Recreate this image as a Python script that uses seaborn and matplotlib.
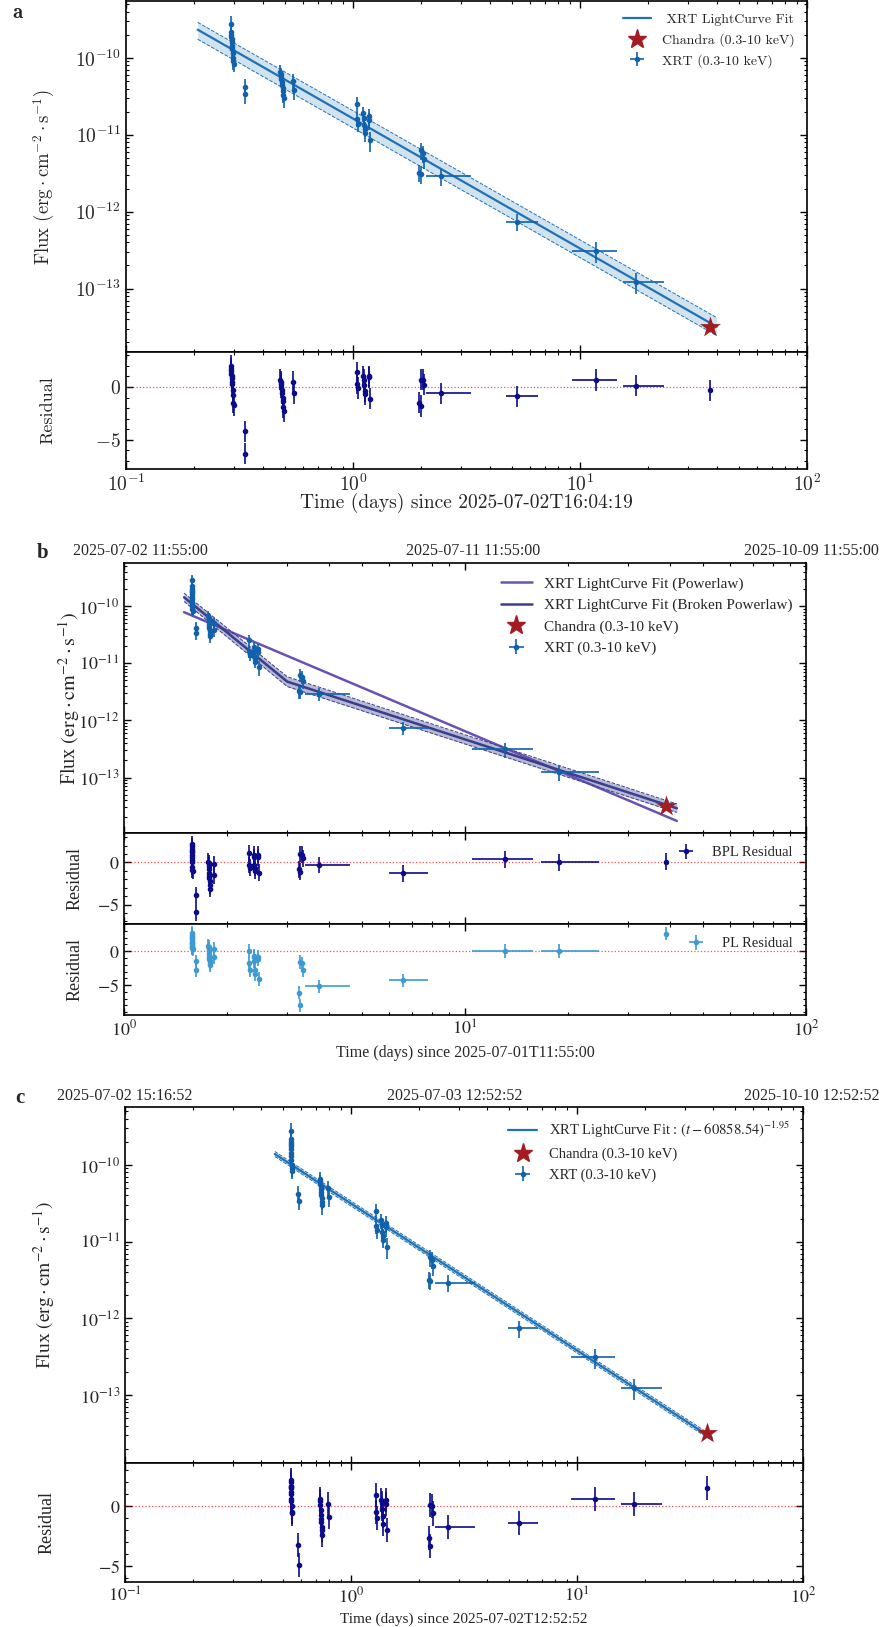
import numpy as np
import pandas as pd
import matplotlib
matplotlib.use('Agg')
import matplotlib.pyplot as plt
import seaborn as sns
from matplotlib.font_manager import FontProperties
from matplotlib.lines import Line2D
from matplotlib.ticker import LogLocator, NullFormatter, MultipleLocator

# ---- data (times in days since 2025-07-02T16:04:19) ----
xrt_t = [0.290, 0.290, 0.291, 0.291, 0.292, 0.292, 0.293, 0.294, 0.295, 0.296, 0.297, 0.299,
         0.334, 0.336,
         0.478, 0.480, 0.482, 0.484, 0.486, 0.488, 0.490, 0.492, 0.494, 0.496,
         0.545, 0.547,
         1.04, 1.04, 1.05, 1.11, 1.12, 1.12, 1.13, 1.13, 1.18, 1.18, 1.19,
         1.99, 2.04, 2.05, 1.96, 1.99,
         2.45, 5.3, 11.8, 17.6]
xrt_f = [2.8e-10, 2.2e-10, 2.0e-10, 1.85e-10, 1.75e-10, 1.6e-10, 1.45e-10, 1.3e-10, 1.15e-10, 1.0e-10, 9.0e-11, 8.3e-11,
         4.2e-11, 3.4e-11,
         6.6e-11, 6.2e-11, 5.7e-11, 5.3e-11, 4.9e-11, 4.5e-11, 4.1e-11, 3.7e-11, 3.3e-11, 3.0e-11,
         5.0e-11, 3.8e-11,
         2.5e-11, 1.6e-11, 1.4e-11, 1.9e-11, 1.65e-11, 1.35e-11, 1.2e-11, 1.05e-11, 1.75e-11, 1.55e-11, 8.5e-12,
         6.3e-12, 5.8e-12, 4.8e-12, 3.2e-12, 3.1e-12,
         2.9e-12, 7.4e-13, 3.1e-13, 1.23e-13]
xrt_ferr = [0.25, 0.22, 0.2, 0.2, 0.2, 0.2, 0.2, 0.2, 0.2, 0.2, 0.22, 0.22,
            0.25, 0.25,
            0.22, 0.2, 0.2, 0.2, 0.2, 0.2, 0.2, 0.22, 0.22, 0.25,
            0.25, 0.25,
            0.25, 0.22, 0.22, 0.22, 0.2, 0.2, 0.22, 0.22, 0.25, 0.25, 0.3,
            0.25, 0.25, 0.25, 0.25, 0.25,
            0.25, 0.25, 0.3, 0.3]
xrt_tm = [0] * 42 + [0.35, 0.6, 2.6, 2.2]
xrt_tp = [0] * 42 + [0.85, 1.2, 2.7, 5.9]

chandra_t = 37.5
chandra_f = 3.2e-14

res_a = [2.0, 1.7, 1.5, 1.2, 1.0, 0.8, 0.5, 0.3, -0.3, -0.8, -1.5, -1.7,
         -4.2, -6.3,
         0.7, 0.5, 0.3, 0.0, -0.3, -0.6, -1.0, -1.3, -1.9, -2.3,
         0.5, -0.6,
         1.4, 0.3, -0.1, 1.0, 0.7, 0.2, -0.4, -0.7, 1.0, 0.9, -1.1,
         0.7, 0.7, 0.2, -1.5, -1.8,
         -0.6, -0.9, 0.65, 0.1,
         -0.3]
res_bpl = [2.2, 1.9, 1.6, 1.4, 1.2, 0.9, 0.6, 0.3, 0.0, -0.5, -0.9, -1.0,
           -3.9, -5.9,
           0.1, -0.1, -0.4, -0.8, -1.2, -1.6, -1.9, -2.2, -2.7, -3.1,
           -0.2, -1.5,
           1.1, -0.3, -0.6, 0.9, 0.6, -0.3, -0.6, -1.0, 0.9, 0.6, -1.2,
           1.0, 0.9, 0.5, -0.8, -1.1,
           -0.3, -1.3, 0.4, 0.0,
           0.1]
res_pl = [2.7, 2.4, 2.1, 1.9, 1.7, 1.4, 1.2, 1.0, 0.8, 0.6, 0.4, 0.3,
          -1.5, -2.8,
          0.8, 0.6, 0.3, 0.0, -0.4, -0.8, -1.1, -1.4, -1.8, -2.0,
          0.3, -0.9,
          0.0, -1.8, -2.8, -0.7, -0.9, -1.5, -2.8, -3.4, -0.8, -1.2, -4.1,
          -1.6, -1.8, -2.8, -6.1, -8.0,
          -5.2, -4.3, 0.0, 0.0,
          2.6]
res_c = [2.2, 2.0, 1.7, 1.6, 1.5, 1.2, 1.0, 0.6, 0.4, 0.0, -0.5, -0.6,
         -3.2, -4.9,
         0.6, 0.4, 0.1, -0.3, -0.7, -1.1, -1.3, -1.7, -2.0, -2.4,
         0.2, -0.9,
         0.9, -0.5, -1.0, 0.5, 0.3, -0.2, -0.8, -1.5, 0.5, 0.2, -2.0,
         0.1, 0.0, -0.6, -2.6, -3.3,
         -1.7, -1.4, 0.6, 0.2,
         1.5]

# epoch shifts (days) for panels b and c
shift_b = 1.29
shift_c = 0.25

# fit curves (log-log straight segments)
fit_a_t = [0.207, 40.0]
fit_a_f = [2.33e-10, 3.2e-14]
fit_a_hi = [2.9e-10, 4.2e-14]
fit_a_lo = [1.75e-10, 2.45e-14]

pl_b_t = [1.50, 41.8]
pl_b_f = [7.8e-11, 1.74e-14]
bpl_b_t = [1.50, 3.01, 41.8]
bpl_b_f = [1.42e-10, 4.76e-12, 2.9e-14]
bpl_b_hi = [1.68e-10, 5.8e-12, 3.45e-14]
bpl_b_lo = [1.2e-10, 3.9e-12, 2.45e-14]

fit_c_t = [0.46, 39.5]
fit_c_f = [1.39e-10, 2.75e-14]
fit_c_hi = [1.50e-10, 2.97e-14]
fit_c_lo = [1.29e-10, 2.55e-14]

top_b = ['2025-07-02 11:55:00', '2025-07-11 11:55:00', '2025-10-09 11:55:00']
top_c = ['2025-07-02 15:16:52', '2025-07-03 12:52:52', '2025-10-10 12:52:52']

XRT_C = '#1161ad'
FIT_C = '#1f72b6'
STAR_C = '#a11d22'
RES_C = '#0b0b8c'
PLRES_C = '#3e9ad3'
PL_C = '#6a52b3'
BPL_C = '#3a3e8c'

sns.set_theme(style='ticks')

W, H = 880, 1627
fig = plt.figure(figsize=(W / 100, H / 100), dpi=100)
fig.patch.set_facecolor('white')


def rect(l, t, r, b):
    return [l / W, 1 - b / H, (r - l) / W, (b - t) / H]


def fp(panel, size, weight='normal'):
    if panel == 'a':
        return FontProperties(family='cmr10', size=size, weight=weight, math_fontfamily='cm')
    return FontProperties(family='Liberation Serif', size=size, weight=weight, math_fontfamily='stix')


def setup(ax):
    ax.set_facecolor('white')
    ax.tick_params(which='both', direction='in', top=True, right=True, color='black')
    ax.tick_params(which='major', length=5, width=1.0)
    ax.tick_params(which='minor', length=2.5, width=0.8)
    for s in ax.spines.values():
        s.set_color('black')
        s.set_linewidth(1.2)


def log_y(ax, exps, panel, size):
    ax.set_yscale('log')
    ax.set_yticks([10.0 ** e for e in exps])
    ax.set_yticklabels([r'$10^{%d}$' % e for e in exps], fontproperties=fp(panel, size))
    ax.yaxis.set_minor_locator(LogLocator(base=10, subs=np.arange(2, 10), numticks=100))
    ax.yaxis.set_minor_formatter(NullFormatter())


def log_x(ax, exps, panel, size):
    ax.set_xscale('log')
    ax.set_xticks([10.0 ** e for e in exps])
    ax.set_xticklabels([r'$10^{%d}$' % e for e in exps], fontproperties=fp(panel, size))
    ax.xaxis.set_minor_locator(LogLocator(base=10, subs=np.arange(2, 10), numticks=100))
    ax.xaxis.set_minor_formatter(NullFormatter())


def res_y(ax, panel, size, lim):
    ax.set_ylim(*lim)
    ax.set_yticks([-5, 0])
    ax.set_yticklabels([r'$-5$', r'$0$'], fontproperties=fp(panel, size))
    ax.yaxis.set_minor_locator(MultipleLocator(1))
    ax.axhline(0, color='red', ls=':', lw=0.9, alpha=0.7, zorder=1)


t_a = np.array(xrt_t)
f = np.array(xrt_f)
ferr = f * np.array(xrt_ferr)
terr = [xrt_tm, xrt_tp]
rt_terr = [xrt_tm + [0], xrt_tp + [0]]
flux_lbl = r'Flux $(\mathrm{erg}\cdot\mathrm{cm}^{-2}\cdot\mathrm{s}^{-1})$'


def draw_xrt(ax, t):
    eb = ax.errorbar(t, f, yerr=ferr, xerr=terr, fmt='o', ms=3, color=XRT_C,
                     ecolor=XRT_C, elinewidth=1.2, capsize=0, zorder=3)
    return eb


def draw_star(ax, t):
    sns.scatterplot(x=[t], y=[chandra_f], marker='*', s=250, color=STAR_C,
                    linewidth=0, ax=ax, zorder=6, legend=False)


STAR_H = Line2D([], [], marker='*', ls='', ms=14, color=STAR_C, mec=STAR_C)


def top_labels(labels, xs, y, size):
    # left and middle centred, last one flush with the figure edge
    for i, (x_, s) in enumerate(zip(xs, labels)):
        ha = 'right' if i == len(labels) - 1 else 'center'
        fig.text(x_ / W, 1 - y / H, s, ha=ha, va='center', fontproperties=fp('b', size))


# ================= panel a =================
ax = fig.add_axes(rect(126, 1, 807, 352))
axr = fig.add_axes(rect(126, 352, 807, 469), sharex=ax)
for a_ in (ax, axr):
    setup(a_)
log_x(axr, [-1, 0, 1, 2], 'a', 14)
axr.set_xlim(0.1, 100)
log_y(ax, [-13, -12, -11, -10], 'a', 14)
ax.set_ylim(1.5e-14, 5.5e-10)
ax.tick_params(labelbottom=False)

ax.fill_between(fit_a_t, fit_a_lo, fit_a_hi, color='#1f77b4', alpha=0.2, lw=0, zorder=1)
ax.plot(fit_a_t, fit_a_hi, ls='--', lw=0.7, color=FIT_C, zorder=2)
ax.plot(fit_a_t, fit_a_lo, ls='--', lw=0.7, color=FIT_C, zorder=2)
sns.lineplot(x=fit_a_t, y=fit_a_f, ax=ax, color=FIT_C, lw=1.6, zorder=2)
fit_h = Line2D([], [], color=FIT_C, lw=1.6)
eb = draw_xrt(ax, t_a)
draw_star(ax, chandra_t)
ax.legend([fit_h, STAR_H, eb], [' XRT LightCurve Fit', 'Chandra (0.3-10 keV)', 'XRT (0.3-10 keV)'],
          loc='upper right', frameon=False, prop=fp('a', 10))
ax.set_ylabel(flux_lbl, fontproperties=fp('a', 13.5))
ax.yaxis.set_label_coords(-0.101, 0.5)

axr.errorbar(list(t_a) + [chandra_t], res_a, yerr=1.0, xerr=rt_terr, fmt='o', ms=3,
             color=RES_C, elinewidth=1.2, capsize=0, zorder=3)
res_y(axr, 'a', 14, (-7.75, 3.3))
axr.set_ylabel('Residual', fontproperties=fp('a', 13))
axr.yaxis.set_label_coords(-0.104, 0.5)
axr.set_xlabel('Time (days) since 2025-07-02T16:04:19', fontproperties=fp('a', 14))
axr.xaxis.set_label_coords(0.5, -0.2)
fig.text(17 / W, 1 - 12 / H, 'a', fontproperties=FontProperties(family='cmb10', size=15), ha='center', va='center')

# ================= panel b =================
t_b = t_a + shift_b
ax = fig.add_axes(rect(124, 563, 806, 833))
ax1 = fig.add_axes(rect(124, 833, 806, 924), sharex=ax)
ax2 = fig.add_axes(rect(124, 924, 806, 1015), sharex=ax)
for a_ in (ax, ax1, ax2):
    setup(a_)
log_x(ax2, [0, 1, 2], 'b', 13)
ax2.set_xlim(1, 100)
log_y(ax, [-13, -12, -11, -10], 'b', 13)
ax.set_ylim(1.07e-14, 5.65e-10)
ax.tick_params(labelbottom=False)
ax1.tick_params(labelbottom=False)

sns.lineplot(x=pl_b_t, y=pl_b_f, ax=ax, color=PL_C, lw=1.8, zorder=2)
ax.fill_between(bpl_b_t, bpl_b_lo, bpl_b_hi, color='#4a5497', alpha=0.4, lw=0, zorder=1)
ax.plot(bpl_b_t, bpl_b_hi, ls='--', lw=0.7, color=BPL_C, zorder=2)
ax.plot(bpl_b_t, bpl_b_lo, ls='--', lw=0.7, color=BPL_C, zorder=2)
sns.lineplot(x=bpl_b_t, y=bpl_b_f, ax=ax, color=BPL_C, lw=1.8, zorder=2, sort=True)
eb = draw_xrt(ax, t_b)
draw_star(ax, chandra_t + shift_b)
ax.legend([Line2D([], [], color=PL_C, lw=1.8), Line2D([], [], color=BPL_C, lw=1.8), STAR_H, eb],
          ['XRT LightCurve Fit (Powerlaw)', 'XRT LightCurve Fit (Broken Powerlaw)',
           'Chandra (0.3-10 keV)', 'XRT (0.3-10 keV)'],
          loc='upper right', frameon=False, prop=fp('b', 11))
ax.set_ylabel(flux_lbl, fontproperties=fp('b', 14.5))
ax.yaxis.set_label_coords(-0.062, 0.5)

rt_b = list(t_b) + [chandra_t + shift_b]
e1 = ax1.errorbar(rt_b, res_bpl, yerr=1.0, xerr=rt_terr, fmt='o', ms=3, color=RES_C,
                  elinewidth=1.2, capsize=0, zorder=3)
res_y(ax1, 'b', 13, (-7.3, 3.5))
ax1.legend([e1], ['BPL Residual'], loc='upper right', frameon=False, prop=fp('b', 10.5))
ax1.set_ylabel('Residual', fontproperties=fp('b', 13))
ax1.yaxis.set_label_coords(-0.060, 0.5)

e2 = ax2.errorbar(rt_b, res_pl, yerr=1.0, xerr=rt_terr, fmt='o', ms=3, color=PLRES_C,
                  elinewidth=1.2, capsize=0, zorder=3)
res_y(ax2, 'b', 13, (-9.4, 4.0))
ax2.legend([e2], ['PL Residual'], loc='upper right', frameon=False, prop=fp('b', 10.5))
ax2.set_ylabel('Residual', fontproperties=fp('b', 13))
ax2.yaxis.set_label_coords(-0.060, 0.5)
ax2.set_xlabel('Time (days) since 2025-07-01T11:55:00', fontproperties=fp('b', 11.5))

top_labels(top_b, [140, 473, 879], 551, 11.5)
fig.text(43 / W, 1 - 553 / H, 'b', ha='center', va='center',
         fontproperties=FontProperties(family='Liberation Serif', size=15, weight='bold'))

# ================= panel c =================
t_c = t_a + shift_c
ax = fig.add_axes(rect(125, 1107, 803, 1463))
axr = fig.add_axes(rect(125, 1463, 803, 1582), sharex=ax)
for a_ in (ax, axr):
    setup(a_)
log_x(axr, [-1, 0, 1, 2], 'c', 13)
axr.set_xlim(0.1, 100)
log_y(ax, [-13, -12, -11, -10], 'c', 13)
ax.set_ylim(1.3e-14, 5.7e-10)
ax.tick_params(labelbottom=False)

ax.fill_between(fit_c_t, fit_c_lo, fit_c_hi, color='#1f77b4', alpha=0.25, lw=0, zorder=1)
ax.plot(fit_c_t, fit_c_hi, ls='--', lw=0.7, color=FIT_C, zorder=2)
ax.plot(fit_c_t, fit_c_lo, ls='--', lw=0.7, color=FIT_C, zorder=2)
sns.lineplot(x=fit_c_t, y=fit_c_f, ax=ax, color=FIT_C, lw=1.6, zorder=2)
eb = draw_xrt(ax, t_c)
draw_star(ax, chandra_t + shift_c)
ax.legend([fit_h, STAR_H, eb],
          [r'XRT LightCurve Fit : $(t-60858.54)^{-1.95}$', 'Chandra (0.3-10 keV)', 'XRT (0.3-10 keV)'],
          loc='upper right', frameon=False, prop=fp('c', 10.5))
ax.set_ylabel(flux_lbl, fontproperties=fp('c', 14))
ax.yaxis.set_label_coords(-0.100, 0.5)

axr.errorbar(list(t_c) + [chandra_t + shift_c], res_c, yerr=1.0, xerr=rt_terr, fmt='o', ms=3,
             color=RES_C, elinewidth=1.2, capsize=0, zorder=3)
res_y(axr, 'c', 13, (-6.3, 3.6))
axr.set_ylabel('Residual', fontproperties=fp('c', 13))
axr.yaxis.set_label_coords(-0.103, 0.5)
axr.set_xlabel('Time (days) since 2025-07-02T12:52:52', fontproperties=fp('c', 11))

top_labels(top_c, [125, 455, 879], 1096, 11.5)
fig.text(20 / W, 1 - 1098 / H, 'c', ha='center', va='center',
         fontproperties=FontProperties(family='Liberation Serif', size=15, weight='bold'))

fig.savefig('out.png', dpi=100, facecolor='white')
